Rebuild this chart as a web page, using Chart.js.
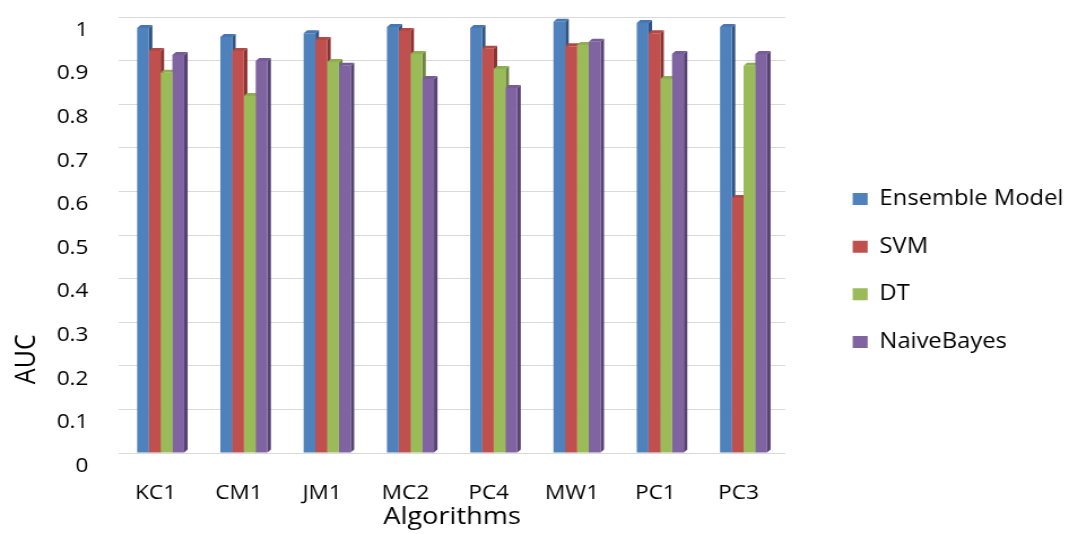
<!DOCTYPE html>
<html>
<head>
<meta charset="utf-8">
<script src="https://cdn.jsdelivr.net/npm/chart.js@4.4.1/dist/chart.umd.min.js"></script>
<style>
    html, body { margin: 0; padding: 0; background: #fff; overflow: hidden; }
    /* l'original est étiré horizontalement : on fait pareil */
    #chart { transform-origin: 0 0; transform: scaleX(1.13); display: block; }
</style>
</head>
<body>
<canvas id="chart" width="954" height="534"></canvas>
<script>
// AUC par jeu de données et par algorithme
const categories = ['KC1', 'CM1', 'JM1', 'MC2', 'PC4', 'MW1', 'PC1', 'PC3'];
const seriesNames = ['Ensemble Model', 'SVM', 'DT', 'NaiveBayes'];
const ensembleAuc = [0.975, 0.954, 0.963, 0.977, 0.975, 0.989, 0.986, 0.977];
const svmAuc = [0.922, 0.922, 0.947, 0.968, 0.927, 0.933, 0.963, 0.585];
const dtAuc = [0.872, 0.819, 0.897, 0.915, 0.881, 0.936, 0.858, 0.888];
const naiveBayesAuc = [0.913, 0.899, 0.888, 0.858, 0.837, 0.943, 0.915, 0.915];
const yTickLabels = ['0', '0.1', '0.2', '0.3', '0.4', '0.5', '0.6', '0.7', '0.8', '0.9', '1'];
const xAxisTitle = 'Algorithms';
const yAxisTitle = 'AUC';

const frontColors = ['#4F81BD', '#C0504D', '#9BBB59', '#8064A2'];
const sideColors = ['#2F5482', '#8A3432', '#6B843B', '#574373'];
const topColors = ['#4677B2', '#B44845', '#8FAE52', '#765C98'];
const FONT = '"Open Sans", "DejaVu Sans", sans-serif';

// faces latérales et supérieures pour imiter les colonnes 3D
const bar3d = {
    id: 'bar3d',
    beforeDatasetsDraw(chart) {
        const ctx = chart.ctx;
        const dx = 3.1, dy = 3;
        chart.data.datasets.forEach((ds, i) => {
            chart.getDatasetMeta(i).data.forEach(bar => {
                const { x, y, base, width } = bar.getProps(['x', 'y', 'base', 'width'], true);
                const l = x - width / 2, r = x + width / 2;
                ctx.save();
                ctx.fillStyle = sideColors[i];
                ctx.beginPath();
                ctx.moveTo(r, y);
                ctx.lineTo(r + dx, y - dy);
                ctx.lineTo(r + dx, base - dy);
                ctx.lineTo(r, base);
                ctx.closePath();
                ctx.fill();
                ctx.fillStyle = topColors[i];
                ctx.beginPath();
                ctx.moveTo(l, y);
                ctx.lineTo(l + dx, y - dy);
                ctx.lineTo(r + dx, y - dy);
                ctx.lineTo(r, y);
                ctx.closePath();
                ctx.fill();
                ctx.restore();
            });
        });
    }
};

// légende collée au graphique, titre Y placé comme dans l'original
const yTitle = {
    id: 'yTitle',
    afterLayout(chart) {
        const lg = chart.legend;
        lg.left = chart.chartArea.right + 33;
        lg.right = chart.width;
        lg.width = lg.right - lg.left;
        lg.top -= 5;
        lg.bottom -= 5;
    },
    afterDraw(chart) {
        const { ctx, chartArea } = chart;
        ctx.save();
        ctx.translate(24, chartArea.top + (chartArea.bottom - chartArea.top) * 0.785);
        ctx.rotate(-Math.PI / 2);
        ctx.font = '25px ' + FONT;
        ctx.fillStyle = '#000';
        ctx.textAlign = 'center';
        ctx.textBaseline = 'middle';
        ctx.fillText(yAxisTitle, 0, 0);
        ctx.restore();
    }
};

const seriesValues = [ensembleAuc, svmAuc, dtAuc, naiveBayesAuc];

const config = {
    type: 'bar',
    data: {
        labels: categories,
        datasets: seriesNames.map((name, i) => ({
            label: name,
            data: seriesValues[i],
            backgroundColor: frontColors[i],
            borderWidth: 0,
            categoryPercentage: 0.565,
            barPercentage: 1.0
        }))
    },
    options: {
        responsive: false,
        animation: false,
        layout: {
            padding: { top: 17, left: 0, right: 0, bottom: 0 }
        },
        plugins: {
            tooltip: { enabled: false },
            legend: {
                position: 'right',
                maxWidth: 400,
                labels: {
                    boxWidth: 13.3,
                    boxHeight: 12,
                    padding: 26.7,
                    color: '#000',
                    font: { family: FONT, size: 21 }
                }
            }
        },
        scales: {
            x: {
                grid: { display: false, drawTicks: false },
                border: { display: false },
                ticks: {
                    padding: 28,
                    labelOffset: -4.4,
                    color: '#000',
                    font: { family: FONT, size: 20 }
                },
                title: {
                    display: true,
                    text: xAxisTitle,
                    color: '#000',
                    padding: { top: 0, bottom: 2 },
                    font: { family: FONT, size: 24 }
                },
                afterFit(scale) {
                    scale.height = 81;
                    scale.paddingLeft = 0;
                    scale.paddingRight = 0;
                }
            },
            y: {
                min: 0,
                max: 1,
                grid: { color: '#D9D9D9', lineWidth: 1, drawTicks: false },
                border: { display: false },
                ticks: {
                    stepSize: 0.1,
                    padding: 27,
                    labelOffset: 13,
                    color: '#000',
                    font: { family: FONT, size: 20 },
                    callback: (value, index) => yTickLabels[index]
                },
                afterFit(scale) {
                    scale.width = 105.3;
                    scale.paddingTop = 0;
                    scale.paddingBottom = 0;
                }
            },
            // espace vide entre le graphique et la légende
            spacer: {
                type: 'linear',
                position: 'right',
                display: true,
                grid: { display: false, drawTicks: false },
                border: { display: false },
                ticks: { display: false },
                afterFit(scale) {
                    scale.width = 36;
                    scale.paddingTop = 0;
                    scale.paddingBottom = 0;
                }
            }
        }
    },
    plugins: [bar3d, yTitle]
};

new Chart(document.getElementById('chart'), config);
</script>
</body>
</html>
